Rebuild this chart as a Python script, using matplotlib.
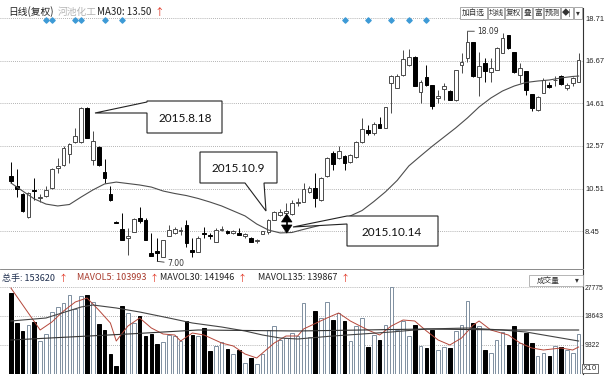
import matplotlib
matplotlib.use('Agg')
import matplotlib.pyplot as plt
import numpy as np
from matplotlib.patches import Polygon, Rectangle

plt.rcParams['font.family'] = ['Noto Sans CJK SC', 'DejaVu Sans']

# daily candles (复权)
opens = [11.11, 10.63, 10.25, 9.14, 10.42, 10.03, 10.15, 10.54, 11.50, 11.64,
         12.17, 12.75, 12.75, 14.39, 11.88, 12.51, 11.31, 10.25, 8.90, 8.56,
         8.13, 8.42, 9.09, 8.99, 7.40, 7.50, 7.21, 8.22, 8.37, 8.44,
         8.75, 7.55, 7.45, 8.39, 8.25, 7.93, 8.49, 8.46, 8.37, 8.37,
         8.22, 8.13, 7.96, 8.32, 8.42, 8.99, 9.23, 9.33, 9.28, 9.79,
         9.86, 10.34, 10.54, 9.96, 11.11, 12.22, 11.98, 12.08, 11.79, 12.03,
         12.75, 13.33, 13.19, 13.62, 13.43, 15.60, 15.35, 15.98, 16.46, 16.85,
         15.16, 15.88, 15.50, 14.87, 15.31, 15.21, 14.78, 16.46, 16.80, 17.57,
         15.88, 16.56, 16.13, 16.22, 17.04, 17.91, 17.09, 15.98, 16.17, 15.07,
         14.29, 15.11, 15.50, 15.72, 15.93, 15.35, 15.60, 15.64]
closes = [10.87, 10.49, 9.43, 10.30, 10.37, 10.08, 10.44, 11.45, 11.60, 12.46,
          12.66, 13.04, 14.39, 12.94, 12.80, 11.64, 11.02, 9.96, 8.87, 8.03,
          8.22, 9.04, 8.94, 8.03, 7.26, 7.40, 8.03, 8.51, 8.56, 8.49,
          7.88, 7.45, 8.13, 8.34, 8.20, 8.51, 8.54, 8.37, 8.46, 8.27,
          8.32, 7.93, 8.01, 8.46, 8.99, 9.38, 9.38, 9.43, 9.81, 9.84,
          10.49, 10.54, 10.05, 11.02, 11.98, 11.69, 12.32, 11.74, 12.13, 12.75,
          13.38, 13.19, 13.62, 13.43, 14.44, 15.93, 15.93, 16.75, 16.85, 15.45,
          15.64, 15.50, 14.49, 14.97, 15.45, 14.78, 16.22, 16.61, 17.57, 15.93,
          16.41, 16.17, 16.32, 17.28, 17.76, 17.28, 16.13, 16.32, 15.26, 14.39,
          14.92, 15.74, 15.40, 15.76, 15.55, 15.50, 15.84, 16.70]
highs = [11.79, 11.45, 10.30, 10.34, 11.02, 10.25, 10.63, 11.50, 11.98, 12.56,
         12.70, 13.43, 14.44, 14.44, 13.28, 12.56, 11.93, 10.63, 8.94, 9.33,
         8.61, 9.09, 9.62, 9.09, 8.37, 8.13, 8.03, 8.75, 8.66, 8.66,
         8.99, 8.13, 8.22, 8.66, 8.37, 8.61, 8.70, 8.51, 8.51, 8.61,
         8.37, 8.17, 8.08, 8.46, 9.04, 9.43, 9.52, 9.81, 9.96, 10.05,
         10.78, 10.63, 11.26, 11.07, 12.03, 12.32, 12.56, 12.13, 12.17, 12.80,
         13.91, 13.57, 13.72, 13.96, 14.44, 15.98, 16.03, 17.19, 17.23, 16.90,
         15.74, 16.46, 15.50, 15.26, 15.60, 15.26, 16.22, 17.04, 18.09, 17.57,
         17.09, 16.80, 16.80, 17.33, 18.00, 17.91, 17.09, 16.56, 16.17, 15.07,
         14.97, 15.84, 15.64, 15.93, 15.98, 15.60, 15.88, 17.04]
lows = [10.78, 10.10, 9.38, 9.09, 9.96, 9.86, 10.10, 10.49, 11.26, 11.60,
        11.74, 12.70, 12.70, 12.94, 11.64, 11.60, 10.78, 9.91, 8.85, 8.03,
        7.31, 8.42, 8.85, 8.03, 7.26, 7.00, 7.21, 8.22, 8.32, 8.27,
        7.69, 7.21, 7.45, 8.13, 8.08, 7.93, 8.46, 8.32, 8.32, 8.27,
        8.13, 7.93, 7.88, 8.32, 8.32, 8.99, 9.19, 9.33, 9.23, 9.67,
        9.86, 10.30, 9.62, 9.91, 11.07, 11.40, 11.93, 11.40, 11.74, 11.98,
        12.70, 13.09, 13.09, 13.43, 13.43, 14.15, 15.35, 15.93, 16.41, 15.45,
        14.63, 15.45, 14.34, 14.63, 14.78, 14.78, 14.73, 16.08, 16.61, 15.88,
        14.97, 15.64, 15.64, 16.22, 17.04, 17.23, 16.08, 15.60, 15.02, 14.25,
        14.25, 15.11, 15.35, 15.45, 15.50, 15.26, 15.45, 15.64]
# volume (x10)
volumes = [25945, 16300, 13825, 15560, 16525, 10610, 12765, 19835, 21350, 22730,
           25400, 20800, 24885, 25400, 22955, 15980, 14145, 6335, 2380, 21670,
           19515, 16300, 18455, 12215, 12765, 9550, 10095, 12540, 12215, 10610,
           16845, 12540, 12215, 14690, 7395, 9000, 10095, 7940, 6335, 7715,
           3440, 5050, 3120, 6335, 14145, 15430, 10930, 11480, 13085, 12215,
           22730, 11705, 20060, 17910, 23050, 17360, 19515, 17040, 10415, 15240,
           17910, 8490, 12540, 10930, 15560, 27775, 14145, 17040, 12025, 15755,
           8810, 8260, 14145, 7715, 8490, 8260, 13630, 15560, 23275, 16300,
           15240, 7715, 6655, 10930, 13310, 9130, 15240, 9870, 13085, 9870,
           5785, 6655, 5595, 9000, 8490, 7715, 6655, 12765]

# MA30 line of price, read at sampled days
ma30_idx = [0, 2, 4, 6, 8, 10, 12, 14, 16, 18, 20, 22, 24, 26, 28, 30, 32, 34, 36, 38,
            40, 42, 44, 46, 48, 50, 52, 54, 56, 58, 60, 62, 64, 66, 68, 70, 72, 74, 76, 78,
            80, 82, 84, 86, 88, 90, 92, 94, 96, 97]
ma30_val = [10.78, 10.39, 10.01, 9.76, 9.67, 9.74, 10.10, 10.44, 10.73, 10.82,
            10.75, 10.68, 10.58, 10.39, 10.27, 10.17, 10.03, 9.86, 9.67, 9.43,
            9.19, 8.80, 8.51, 8.37, 8.39, 8.54, 8.68, 8.82, 8.98, 9.19,
            9.45, 9.88, 10.35, 10.90, 11.60, 12.08, 12.55, 12.99, 13.43, 13.91,
            14.44, 14.87, 15.21, 15.45, 15.62, 15.69, 15.74, 15.84, 15.91, 15.93]

# volume moving averages
mavol5_idx = [0, 5, 7, 9, 11, 13, 15, 17, 18, 20, 22, 24, 26, 28, 29, 31, 33, 36, 38, 40,
              42, 43, 45, 47, 49, 50, 54, 56, 58, 61, 63, 65, 67, 69, 71, 73, 75, 77, 79, 80,
              82, 85, 87, 89, 91, 94, 96, 97]
mavol5_val = [27550, 14050, 16620, 20160, 23050, 24340, 20480, 16300, 10510, 15335,
              17910, 14690, 12765, 12440, 10510, 13085, 12440, 9870, 8905, 6335,
              5050, 6655, 9870, 12120, 12120, 14370, 17910, 19515, 16945, 14050,
              12440, 15335, 17265, 16945, 13730, 10835, 9230, 11480, 15655, 16945,
              14050, 12440, 9870, 8265, 7620, 8265, 7620, 8585]
mavol30_idx = [0, 6, 12, 14, 18, 22, 27, 31, 36, 40, 43, 46, 49, 55, 60, 65, 71, 78, 84, 88, 92, 97]
mavol30_val = [16945, 17910, 21445, 22090, 21125, 19835, 17910, 16300, 15015, 13730,
               12440, 11480, 11155, 12120, 12765, 13410, 14370, 14690, 14050, 13410, 12120, 10510]
mavol135_idx = [0, 21, 32, 49, 71, 85, 97]
mavol135_val = [10835, 12860, 14050, 13730, 14370, 14050, 14050]

signal_idx = [6, 7, 11, 12, 16, 19, 57, 61, 65, 68, 71]
price_ticks = [8.45, 10.51, 12.57, 14.61, 16.67, 18.71]
vol_ticks = [9322, 18643, 27775]

W, H = 604, 379
fig = plt.figure(figsize=(W / 100, H / 100), dpi=100)


def fx(x):
    return x / W


def fy(y):
    return 1 - y / H


ax = fig.add_axes([0, fy(268), fx(583), (268 - 8) / H])
axv = fig.add_axes([0, fy(373.7), fx(583), (373.7 - 270) / H])

xs = np.arange(len(opens))
o = np.array(opens)
c = np.array(closes)
up = c >= o
grid_kw = dict(color='#9a9a9a', lw=0.6, ls=(0, (1, 1.5)), zorder=0)

# ---- price panel
for p in price_ticks:
    ax.axhline(p, **grid_kw)
ax.vlines(xs[up], np.array(lows)[up], np.array(highs)[up], color='#4a4a4a', lw=0.7, zorder=2)
ax.vlines(xs[~up], np.array(lows)[~up], np.array(highs)[~up], color='black', lw=0.7, zorder=2)
body = np.abs(c - o)
body = np.where(body < 0.04, 0.04, body)
bottom = np.minimum(o, c)
ax.bar(xs[up], body[up], 0.64, bottom[up], facecolor='white', edgecolor='#4a4a4a', lw=0.7, zorder=3)
ax.bar(xs[~up], body[~up], 0.64, bottom[~up], facecolor='black', edgecolor='black', lw=0.7, zorder=3)
ax.plot(ma30_idx, ma30_val, color='#4d4d4d', lw=0.8, zorder=4)
ax.scatter(signal_idx, [0.953] * len(signal_idx), transform=ax.get_xaxis_transform(),
           marker='D', s=7, color='#3d9ad6', zorder=5, clip_on=False)

ax.annotate('18.09', xy=(78, 18.09), xytext=(7, 0), textcoords='offset points',
            fontsize=5.5, color='#333333', va='center', family='DejaVu Sans',
            arrowprops=dict(arrowstyle='-', color='#333333', lw=0.6, shrinkA=0, shrinkB=0))
ax.annotate('7.00', xy=(25, 7.00), xytext=(7, -1.5), textcoords='offset points',
            fontsize=5.5, color='#333333', va='center', family='DejaVu Sans',
            arrowprops=dict(arrowstyle='-', color='#333333', lw=0.6, shrinkA=0, shrinkB=0))

ax.set_xlim(-1.862, 97.75)
ax.set_ylim(6.680, 19.209)
ax.set_xticks([])
ax.yaxis.tick_right()
ax.set_yticks(price_ticks)
ax.set_yticklabels([f'{p:.2f}' for p in price_ticks], family='Liberation Sans')
ax.tick_params(axis='y', length=0, pad=1.5, labelsize=5.4, labelcolor='#222222')
for s in ['top', 'left', 'bottom']:
    ax.spines[s].set_visible(False)
ax.spines['right'].set_color('#333333')
ax.spines['right'].set_linewidth(0.8)

# ---- volume panel
for v in vol_ticks:
    axv.axhline(v, **grid_kw)
vol = np.array(volumes)
axv.bar(xs[up], vol[up], 0.62, facecolor='white', edgecolor='#7f8fa0', lw=0.7, zorder=2)
axv.bar(xs[~up], vol[~up], 0.62, facecolor='black', edgecolor='black', lw=0.7, zorder=2)
axv.plot(mavol5_idx, mavol5_val, color='#b5473a', lw=0.7, zorder=4)
axv.plot(mavol30_idx, mavol30_val, color='#444444', lw=0.8, zorder=4)
axv.plot(mavol135_idx, mavol135_val, color='#333333', lw=0.8, zorder=4)
axv.set_xlim(-1.862, 97.75)
axv.set_ylim(0, 33340)
axv.set_xticks([])
axv.yaxis.tick_right()
axv.set_yticks(vol_ticks)
axv.set_yticklabels([str(v) for v in vol_ticks], family='Liberation Sans')
axv.tick_params(axis='y', length=0, pad=1.0, labelsize=4.9, labelcolor='#222222')
for s in ['top', 'left', 'bottom']:
    axv.spines[s].set_visible(False)
axv.spines['right'].set_color('#333333')
axv.spines['right'].set_linewidth(0.8)

# panel separator
fig.add_artist(plt.Line2D([0, fx(583)], [fy(269), fy(269)], color='#777777', lw=0.6))

# ---- headers
hy = fy(12)
fig.text(fx(8), hy, '日线(复权)', fontsize=7, color='#222222', va='center')
fig.text(fx(58), hy, '河池化工', fontsize=7, color='#b4b4b4', va='center')
fig.text(fx(97), hy, 'MA30: 13.50', fontsize=7, color='#222222', va='center')
fig.text(fx(154), hy, '↑', fontsize=7, color='#e0301e', va='center')

vy = fy(278)
vfs = 6.5
vol_header = [('总手: 153620', 2, '#1f2f4f'), ('MAVOL5: 103993', 77, '#a83a2c'),
              ('MAVOL30: 141946', 160, '#222222'), ('MAVOL135: 139867', 258, '#222222')]
for label, x0, col in vol_header:
    t = fig.text(fx(x0), vy, label, fontsize=vfs, color=col, va='center')
    axv.annotate('↑', xy=(1, 0.5), xycoords=t, xytext=(2.5, 0), textcoords='offset points',
                 fontsize=vfs, color='#e0301e', va='center', annotation_clip=False)

# toolbar buttons
buttons = [('加自选', 460, 487), ('均线', 488, 504), ('复权', 505, 521), ('叠', 522, 532),
           ('富', 533, 543), ('预测', 544, 560), ('◆|', 561, 573), ('▾', 574, 582)]
for label, x0, x1 in buttons:
    fig.add_artist(Rectangle((fx(x0), fy(19)), fx(x1 - x0), 12 / H, transform=fig.transFigure,
                             facecolor='white', edgecolor='#9a9a9a', lw=0.6))
    fig.text(fx((x0 + x1) / 2), fy(13), label, fontsize=5.5, color='#333333',
             ha='center', va='center')

# 成交量 dropdown and X10 box
fig.add_artist(Rectangle((fx(529), fy(286)), fx(54), 11 / H, transform=fig.transFigure,
                         facecolor='white', edgecolor='#aaaaaa', lw=0.6))
fig.text(fx(548), fy(280.5), '成交量', fontsize=5.5, color='#333333', ha='center', va='center')
fig.text(fx(577), fy(280.5), '▾', fontsize=5.5, color='#333333', ha='center', va='center')
fig.text(fx(590), fy(368.5), 'X10', fontsize=5.3, color='#333333', ha='center', va='center',
         family='DejaVu Sans',
         bbox=dict(boxstyle='square,pad=0.15', fc='white', ec='#555555', lw=0.6))

# ---- callouts
callouts = [
    ([(147, 101), (222, 101), (222, 133), (147, 133), (147, 113), (95, 113), (147, 102)],
     (185, 118), '2015.8.18'),
    ([(200, 152), (277, 152), (277, 183), (264, 183), (266, 211), (245, 183), (200, 183)],
     (238, 168), '2015.10.9'),
    ([(347, 216), (438, 216), (438, 246), (347, 246), (347, 224), (293, 227)],
     (392, 232), '2015.10.14'),
]
for pts, (tx, ty), label in callouts:
    fig.add_artist(Polygon([(fx(a), fy(b)) for a, b in pts], closed=True,
                           transform=fig.transFigure, facecolor='white',
                           edgecolor='#222222', lw=0.8, zorder=10))
    fig.text(fx(tx), fy(ty), label, fontsize=8.5, family='Lato', color='#111111',
             ha='center', va='center', zorder=11)

# double-headed arrow
ax_x = 286.7
for tri in ([(281.5, 222), (292, 222), (ax_x, 214)], [(281.5, 225), (292, 225), (ax_x, 233)]):
    fig.add_artist(Polygon([(fx(a), fy(b)) for a, b in tri], closed=True,
                           transform=fig.transFigure, facecolor='black', edgecolor='black',
                           lw=0.5, zorder=10))
fig.add_artist(plt.Line2D([fx(ax_x), fx(ax_x)], [fy(216), fy(231)], color='black', lw=1.2, zorder=10))

fig.savefig('out.png', dpi=100)
